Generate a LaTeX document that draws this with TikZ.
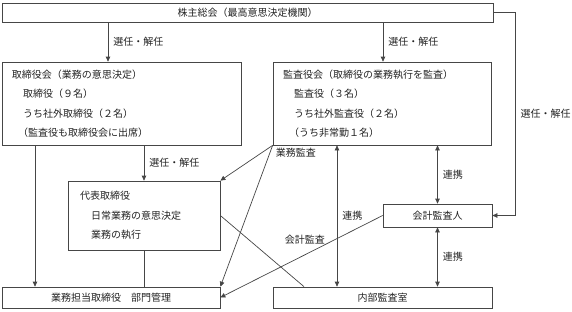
\documentclass[tikz,border=0pt]{standalone}
\usepackage{fontspec}
\setmainfont{Noto Sans CJK JP}
\usepackage{xcolor}
\usepackage{tikz}
\usetikzlibrary{arrows.meta, positioning, calc}
\definecolor{ink}{RGB}{35,35,35}
\definecolor{rule}{RGB}{70,70,70}
\newcommand{\indt}{\hspace*{1.1em}}
\newcommand{\indp}{\hspace*{0.6em}}

\begin{document}
\begin{tikzpicture}[x=1pt, y=-1pt, font=\fontsize{10}{19.5}\selectfont, text=ink,
  box/.style={rectangle, draw=rule, line width=0.7pt, inner sep=0pt},
  infobox/.style={box, align=left, inner xsep=10pt},
  arr/.style={-{Triangle[length=5pt, width=4.5pt]}, draw=rule, line width=0.7pt},
  link/.style={{Triangle[length=5pt, width=4.5pt]}-{Triangle[length=5pt, width=4.5pt]}, draw=rule, line width=0.7pt},
  plain/.style={draw=rule, line width=0.7pt}]
  \useasboundingbox (0,0) rectangle (572,311);
  % boxes
  \node[box, minimum width=491pt, minimum height=19pt] (sh) at (247.5,12.5) {株主総会（最高意思決定機関）};
  \node[infobox, text width=219pt, minimum height=83pt] (tb) at (121.5,103.5)
    {取締役会（業務の意思決定）\\ \indt 取締役（９名）\\ \indt うち社外取締役（２名）\\ \indp（監査役も取締役会に出席）};
  \node[infobox, text width=198pt, minimum height=83pt] (kk) at (382,103.5)
    {監査役会（取締役の業務執行を監査）\\ \indt 監査役（３名）\\ \indt うち社外監査役（２名）\\ \indp（うち非常勤１名）};
  \node[infobox, inner xsep=12pt, text width=128pt, minimum height=69pt] (dh) at (144,215.5)
    {代表取締役\\ \indt 日常業務の意思決定\\ \indt 業務の執行};
  \node[box, minimum width=218pt, minimum height=21pt] (gt) at (111,297.5) {業務担当取締役　部門管理};
  \node[box, minimum width=219pt, minimum height=21pt] (nb) at (382.5,297.5) {内部監査室};
  \node[box, minimum width=109pt, minimum height=23pt] (ka) at (437.5,215.5) {会計監査人};
  % appointment
  \draw[arr] (sh.south -| 108,0) -- node[right, inner sep=5pt]{選任・解任} (tb.north -| 108,0);
  \draw[arr] (sh.south -| 383,0) -- node[right, inner sep=5pt]{選任・解任} (kk.north -| 383,0);
  \draw[arr] (sh.east) -- ++(22,0) coordinate (r1)
    -- node[right, inner sep=5pt]{選任・解任} (r1 |- ka.east) -- (ka.east);
  \draw[arr] (tb.south -| dh.north) -- node[right, inner sep=5pt]{選任・解任} (dh.north);
  \draw[arr] (tb.south -| 35,0) -- (gt.north -| 35,0);
  \draw[plain] (dh.south) -- (dh.south |- gt.north);
  % audit
  \draw[arr] (kk.south west) -- (dh.north east);
  \draw[arr] (kk.south west) -- (gt.north east);
  \node[below right, inner sep=3pt] at (kk.south west) {業務監査};
  \draw[plain] (dh.east) -- (nb.north -| 304,0);
  \draw[arr] (ka.west) -- node[pos=0.48, above=7pt]{会計監査} (gt.east);
  % cooperation
  \draw[link] (kk.south -| 337,0) -- node[pos=0.5, right, inner sep=5pt]{連携} (nb.north -| 337,0);
  \draw[link] (kk.south -| ka.north) -- node[right, inner sep=5pt]{連携} (ka.north);
  \draw[link] (ka.south) -- node[right, inner sep=5pt]{連携} (ka.south |- nb.north);
\end{tikzpicture}
\end{document}
